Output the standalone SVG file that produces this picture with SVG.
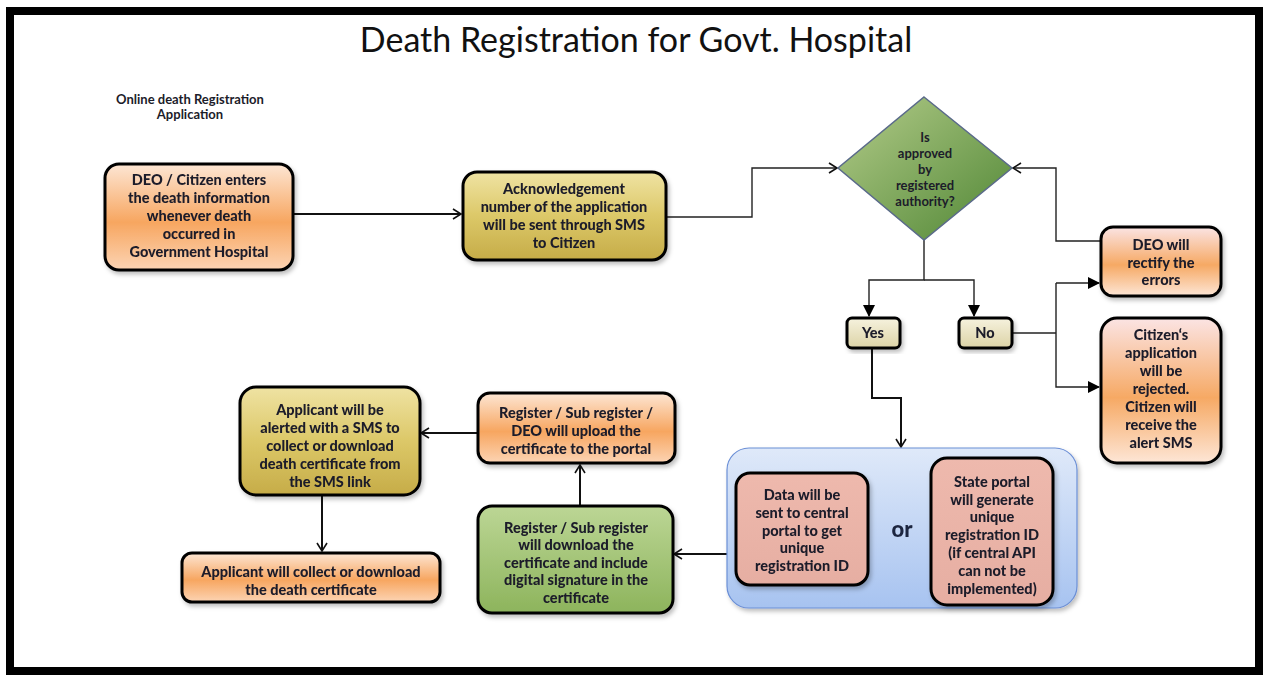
<svg xmlns="http://www.w3.org/2000/svg" width="1267" height="675" viewBox="0 0 1267 675">
<style>
.t{font-family:Lato,"Liberation Sans",sans-serif;font-weight:900;font-size:14.5px;fill:#1c1c2a;text-anchor:middle}
.s{font-size:13px;font-weight:bold}
.box{stroke:#000;stroke-width:3}
.ln{fill:none;stroke:#111;stroke-width:2}
.thin{fill:none;stroke:#222;stroke-width:1.4}
</style>
<defs>
<linearGradient id="gOr" x1="0" y1="0" x2="0" y2="1"><stop offset="0" stop-color="#fde6d4"/><stop offset="0.55" stop-color="#f7a660"/><stop offset="1" stop-color="#fcd4b4"/></linearGradient>
<linearGradient id="gOr2" x1="0" y1="0" x2="0" y2="1"><stop offset="0" stop-color="#fbe4e4"/><stop offset="0.55" stop-color="#f6a964"/><stop offset="1" stop-color="#fde6d6"/></linearGradient>
<linearGradient id="gGold" x1="0" y1="0" x2="0" y2="1"><stop offset="0" stop-color="#efe3a3"/><stop offset="0.5" stop-color="#dcc868"/><stop offset="1" stop-color="#c6ac48"/></linearGradient>
<linearGradient id="gGreen" x1="0" y1="0" x2="0" y2="1"><stop offset="0" stop-color="#bcd695"/><stop offset="1" stop-color="#8db45c"/></linearGradient>
<linearGradient id="gDia" x1="0" y1="0" x2="1" y2="1"><stop offset="0" stop-color="#b4cc8a"/><stop offset="1" stop-color="#4f8634"/></linearGradient>
<linearGradient id="gCream" x1="0" y1="0" x2="0" y2="1"><stop offset="0" stop-color="#f6f2de"/><stop offset="1" stop-color="#dcd3a6"/></linearGradient>
<linearGradient id="gPink" x1="0" y1="0" x2="0" y2="1"><stop offset="0" stop-color="#eeb9ad"/><stop offset="1" stop-color="#e6aea2"/></linearGradient>
<linearGradient id="gBlue" x1="0" y1="0" x2="0" y2="1"><stop offset="0" stop-color="#dfe9f9"/><stop offset="1" stop-color="#a7c3f0"/></linearGradient>
<filter id="sh" x="-10%" y="-10%" width="125%" height="130%"><feDropShadow dx="2" dy="3" stdDeviation="2" flood-color="#000" flood-opacity="0.25"/></filter>
<marker id="open" markerWidth="12" markerHeight="12" refX="10" refY="6" orient="auto" markerUnits="userSpaceOnUse"><path d="M2,1 L10,6 L2,11" fill="none" stroke="#111" stroke-width="1.6"/></marker>
<marker id="fill" markerWidth="12" markerHeight="12" refX="11" refY="6" orient="auto" markerUnits="userSpaceOnUse"><path d="M0,0 L12,6 L0,12 Z" fill="#000"/></marker>
</defs>
<rect x="0" y="0" width="1267" height="675" fill="#fff"/>
<rect x="10" y="11" width="1249" height="660" fill="#fff" stroke="#000" stroke-width="8"/>
<text x="636" y="52" font-family="Lato,'Liberation Sans',sans-serif" font-size="34" fill="#111" text-anchor="middle">Death Registration for Govt. Hospital</text>
<text class="t" style="font-size:13px;font-weight:bold" x="190" y="104">Online death Registration</text>
<text class="t" style="font-size:13px;font-weight:bold" x="190" y="119">Application</text>

<g id="connectors">
<line class="ln" x1="293" y1="214" x2="461" y2="214" marker-end="url(#open)"/>
<polyline class="thin" points="666,217 752,217 752,168 837,168" marker-end="url(#open)"/>
<polyline class="thin" points="1101,241 1056,241 1056,168 1013,168" marker-end="url(#open)"/>
<polyline class="thin" points="924,240 924,280 869,280 869,316" marker-end="url(#fill)"/>
<polyline class="thin" points="924,280 974,280 974,316" marker-end="url(#fill)"/>
<polyline class="thin" points="1012,333 1056,333"/>
<polyline class="thin" points="1056,283 1056,387 1099,387" marker-end="url(#fill)"/>
<line class="thin" x1="1056" y1="283" x2="1099" y2="283" marker-end="url(#fill)"/>
<polyline class="ln" stroke-width="2.5" points="872,348 872,398 901,398 901,447" marker-end="url(#open)"/>
<line class="ln" x1="727" y1="554" x2="674" y2="554" marker-end="url(#open)"/>
<line class="ln" x1="580" y1="506" x2="580" y2="465" marker-end="url(#open)"/>
<line class="ln" x1="478" y1="433" x2="421" y2="433" marker-end="url(#open)"/>
<line class="ln" x1="322" y1="495" x2="322" y2="551" marker-end="url(#open)"/>
</g>

<g id="n1" filter="url(#sh)"><rect class="box" x="105" y="164" width="188" height="106" rx="14" fill="url(#gOr)"/>
<text class="t" x="199"><tspan x="199" y="185">DEO  / Citizen enters</tspan><tspan x="199" y="203">the death information</tspan><tspan x="199" y="221">whenever death</tspan><tspan x="199" y="239">occurred in</tspan><tspan x="199" y="257">Government Hospital</tspan></text></g>

<g id="n2" filter="url(#sh)"><rect class="box" x="463" y="172" width="203" height="88" rx="14" fill="url(#gGold)"/>
<text class="t" x="564"><tspan x="564" y="194">Acknowledgement</tspan><tspan x="564" y="212">number of the application</tspan><tspan x="564" y="230">will be sent through SMS</tspan><tspan x="564" y="248">to Citizen</tspan></text></g>

<g id="decision"><polygon points="924,97 1012,168 924,240 838,168" fill="url(#gDia)" stroke="#5a6a8a" stroke-width="1.5"/>
<text class="t s" x="925"><tspan x="925" y="142">Is</tspan><tspan x="925" y="158">approved</tspan><tspan x="925" y="174">by</tspan><tspan x="925" y="190">registered</tspan><tspan x="925" y="206">authority?</tspan></text></g>

<g id="yes" filter="url(#sh)"><rect class="box" x="847" y="318" width="53" height="30" rx="5" fill="url(#gCream)"/><text class="t" x="873" y="338">Yes</text></g>
<g id="no" filter="url(#sh)"><rect class="box" x="959" y="318" width="53" height="30" rx="5" fill="url(#gCream)"/><text class="t" x="985" y="338">No</text></g>

<g id="rectify" filter="url(#sh)"><rect class="box" x="1101" y="227" width="120" height="69" rx="12" fill="url(#gOr2)"/>
<text class="t" x="1161"><tspan x="1161" y="250">DEO will</tspan><tspan x="1161" y="268">rectify the</tspan><tspan x="1161" y="285">errors</tspan></text></g>

<g id="rejected" filter="url(#sh)"><rect class="box" x="1101" y="318" width="120" height="145" rx="16" fill="url(#gOr2)"/>
<text class="t" x="1161"><tspan x="1161" y="340">Citizen‘s</tspan><tspan x="1161" y="358">application</tspan><tspan x="1161" y="376">will be</tspan><tspan x="1161" y="394">rejected.</tspan><tspan x="1161" y="412">Citizen will</tspan><tspan x="1161" y="430">receive the</tspan><tspan x="1161" y="448">alert SMS</tspan></text></g>

<g id="container" filter="url(#sh)"><rect x="727" y="448" width="350" height="160" rx="22" fill="url(#gBlue)" stroke="#6b8fd6" stroke-width="1.2"/>
<text class="t" style="font-size:22px;fill:#1e2640" x="902" y="537">or</text></g>

<g id="central" filter="url(#sh)"><rect class="box" x="736" y="473" width="132" height="112" rx="14" fill="url(#gPink)"/>
<text class="t" x="802"><tspan x="802" y="500">Data will  be</tspan><tspan x="802" y="518">sent to central</tspan><tspan x="802" y="536">portal to get</tspan><tspan x="802" y="553">unique</tspan><tspan x="802" y="571">registration ID</tspan></text></g>

<g id="state" filter="url(#sh)"><rect class="box" x="931" y="458" width="122" height="147" rx="16" fill="url(#gPink)"/>
<text class="t" x="992"><tspan x="992" y="487">State portal</tspan><tspan x="992" y="505">will generate</tspan><tspan x="992" y="522">unique</tspan><tspan x="992" y="540">registration ID</tspan><tspan x="992" y="558">(if central API</tspan><tspan x="992" y="576">can not be</tspan><tspan x="992" y="594">implemented)</tspan></text></g>

<g id="download" filter="url(#sh)"><rect class="box" x="478" y="506" width="195" height="107" rx="14" fill="url(#gGreen)"/>
<text class="t" x="576"><tspan x="576" y="533">Register / Sub register</tspan><tspan x="576" y="550">will download the</tspan><tspan x="576" y="568">certificate and include</tspan><tspan x="576" y="585">digital signature in the</tspan><tspan x="576" y="603">certificate</tspan></text></g>

<g id="upload" filter="url(#sh)"><rect class="box" x="478" y="393" width="197" height="70" rx="12" fill="url(#gOr)"/>
<text class="t" x="576"><tspan x="576" y="418">Register / Sub register /</tspan><tspan x="576" y="436">DEO  will  upload the</tspan><tspan x="576" y="454">certificate to the portal</tspan></text></g>

<g id="alerted" filter="url(#sh)"><rect class="box" x="240" y="387" width="180" height="108" rx="16" fill="url(#gGold)"/>
<text class="t" x="330"><tspan x="330" y="415">Applicant will be</tspan><tspan x="330" y="433">alerted with a SMS to</tspan><tspan x="330" y="451">collect or download</tspan><tspan x="330" y="469">death certificate from</tspan><tspan x="330" y="487">the SMS link</tspan></text></g>

<g id="collect" filter="url(#sh)"><rect class="box" x="182" y="553" width="258" height="49" rx="10" fill="url(#gOr)"/>
<text class="t" x="311"><tspan x="311" y="577">Applicant will collect or download</tspan><tspan x="311" y="595">the death certificate</tspan></text></g>
</svg>
